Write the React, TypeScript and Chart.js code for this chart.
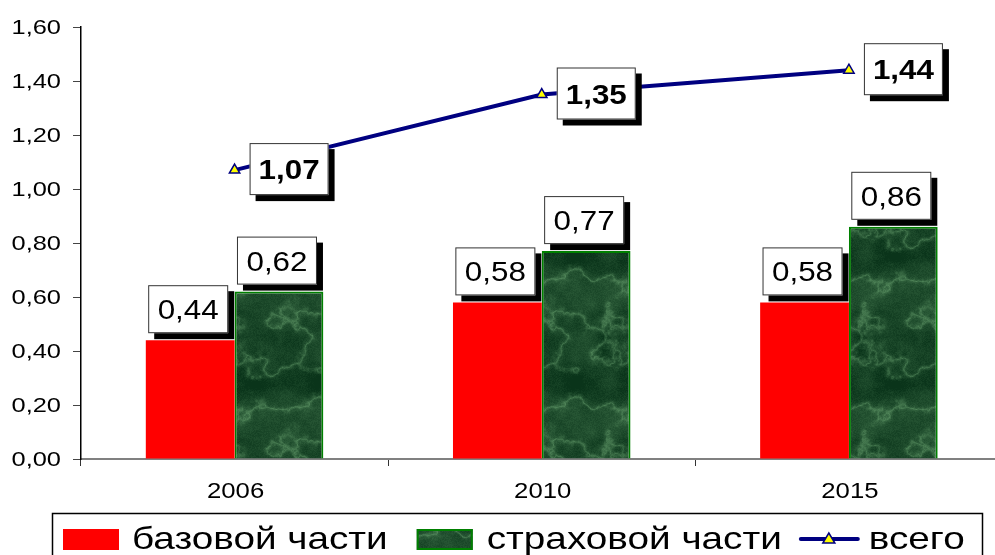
import React, { useEffect, useRef } from "react";
import { Chart, registerables } from "chart.js";

Chart.register(...registerables);

// Pension components by year
const years = ["2006", "2010", "2015"];
const basePart = [0.44, 0.58, 0.58];
const insurancePart = [0.62, 0.77, 0.86];
const total = [1.07, 1.35, 1.44];
const seriesNames = ["базовой части", "страховой части", "всего"];
const yMin = 0;
const yMax = 1.6;
const yStep = 0.2;

const FONT = '"Liberation Sans", Arial, sans-serif';
const fmt = (v: number) => v.toFixed(2).replace(".", ",");

// Horizontally widened text, positioned by its digit centre line
function drawText(
  ctx: CanvasRenderingContext2D,
  text: string,
  x: number,
  cy: number,
  align: CanvasTextAlign,
  size: number,
  sx: number,
  bold = false
) {
  ctx.save();
  ctx.font = `${bold ? "bold " : ""}${size}px ${FONT}`;
  ctx.fillStyle = "#000";
  ctx.textAlign = align;
  ctx.textBaseline = "alphabetic";
  ctx.translate(x, cy + size * 0.358);
  ctx.scale(sx, 1);
  ctx.fillText(text, 0, 0);
  ctx.restore();
}

function measure(ctx: CanvasRenderingContext2D, text: string, size: number, sx: number) {
  ctx.save();
  ctx.font = `${size}px ${FONT}`;
  const w = ctx.measureText(text).width * sx;
  ctx.restore();
  return w;
}

// Deterministic marble-like texture for the green bars
function hash(x: number, y: number) {
  let h = (x * 374761393 + y * 668265263) | 0;
  h = Math.imul(h ^ (h >>> 13), 1274126177);
  return ((h ^ (h >>> 16)) >>> 0) / 4294967295;
}
function vnoise(x: number, y: number, period: number) {
  const xi = Math.floor(x), yi = Math.floor(y);
  const fx = x - xi, fy = y - yi;
  const sx = fx * fx * (3 - 2 * fx), sy = fy * fy * (3 - 2 * fy);
  const w = (a: number) => ((a % period) + period) % period;
  const a = hash(w(xi), w(yi)), b = hash(w(xi + 1), w(yi));
  const c = hash(w(xi), w(yi + 1)), d = hash(w(xi + 1), w(yi + 1));
  return a + (b - a) * sx + (c - a) * sy + (a - b - c + d) * sx * sy;
}
function fbm(x: number, y: number, size: number, base: number, octaves: number, seed: number) {
  let f = 0, amp = 0.5, freq = base, norm = 0;
  for (let k = 0; k < octaves; k++) {
    f += amp * vnoise((x / size) * freq + seed, (y / size) * freq + seed * 0.7, freq);
    norm += amp;
    amp *= 0.5;
    freq *= 2;
  }
  return f / norm;
}
function makeMarble(ctx: CanvasRenderingContext2D) {
  const size = 128;
  const off = document.createElement("canvas");
  off.width = size;
  off.height = size;
  const o = off.getContext("2d")!;
  const img = o.createImageData(size, size);
  for (let y = 0; y < size; y++) {
    for (let x = 0; x < size; x++) {
      const cloud = fbm(x, y, size, 4, 4, 0);
      const v = fbm(x, y, size, 4, 5, 17);
      const vein = Math.pow(1 - Math.abs(2 * v - 1), 14);
      const grain = hash(x + 1000, y + 2000);
      const t = Math.min(1, Math.max(0, (cloud - 0.35) * 0.55 + vein * 0.45 + grain * 0.12));
      const i = (y * size + x) * 4;
      img.data[i] = 10 + t * 95;
      img.data[i + 1] = 52 + t * 110;
      img.data[i + 2] = 26 + t * 85;
      img.data[i + 3] = 255;
    }
  }
  o.putImageData(img, 0, 0);
  return ctx.createPattern(off, "repeat")!;
}

function labelBox(
  ctx: CanvasRenderingContext2D,
  left: number,
  top: number,
  w: number,
  h: number
) {
  ctx.save();
  ctx.fillStyle = "#000";
  ctx.fillRect(left + 6, top + 6, w, h);
  ctx.fillStyle = "#fff";
  ctx.fillRect(left, top, w, h);
  ctx.strokeStyle = "#333";
  ctx.lineWidth = 1;
  ctx.strokeRect(left + 0.5, top + 0.5, w - 1, h - 1);
  ctx.restore();
}

export default function App() {
  const ref = useRef<HTMLCanvasElement>(null);

  useEffect(() => {
    const canvas = ref.current!;
    const ctx0 = canvas.getContext("2d")!;
    const marble = makeMarble(ctx0);

    const decorations = {
      id: "decorations",
      afterDatasetsDraw(chart: any) {
        const ctx = chart.ctx as CanvasRenderingContext2D;
        // value boxes above bars
        [0, 1].forEach((di) => {
          const meta = chart.getDatasetMeta(di);
          const values = chart.data.datasets[di].data as number[];
          meta.data.forEach((bar: any, j: number) => {
            const w = 80, h = 48;
            const left = bar.x - 2 - w / 2;
            const top = bar.y - 7 - h;
            labelBox(ctx, left, top, w, h);
            drawText(ctx, fmt(values[j]), left + w / 2, top + h / 2, "center", 28, 1.12);
          });
        });
        // value boxes beside the total line
        const lm = chart.getDatasetMeta(2);
        lm.data.forEach((pt: any, j: number) => {
          const w = 79, h = 52;
          const left = pt.x + 15;
          const top = pt.y - h / 2 - 1;
          labelBox(ctx, left, top, w, h);
          drawText(ctx, fmt(total[j]), left + w / 2, top + h / 2, "center", 28, 1.12, true);
        });
      },
      afterDraw(chart: any) {
        const ctx = chart.ctx as CanvasRenderingContext2D;
        const ys = chart.scales.y;
        const xs = chart.scales.x;
        ys.ticks.forEach((t: any) => {
          drawText(ctx, fmt(t.value), 61, ys.getPixelForValue(t.value) - 1, "right", 21, 1.21);
        });
        years.forEach((_, i) => {
          drawText(ctx, xs.getLabelForValue(i), xs.getPixelForValue(i) + 1, 490, "center", 22, 1.17);
        });

        // legend
        ctx.save();
        ctx.strokeStyle = "#000";
        ctx.lineWidth = 1.5;
        ctx.strokeRect(52.5, 513.5, 930, 80);
        ctx.restore();
        const lsz = 32, lsx = 1.21;
        const cy = 539;
        let x = 63;
        // red swatch
        ctx.fillStyle = "#FF0000";
        ctx.fillRect(x, 529, 56, 21);
        x += 69;
        drawText(ctx, seriesNames[0], x, cy - 1, "left", lsz, lsx);
        x += measure(ctx, seriesNames[0], lsz, lsx) + 29;
        // green swatch
        ctx.save();
        ctx.fillStyle = marble;
        ctx.fillRect(x, 529, 56, 21);
        ctx.strokeStyle = "#008000";
        ctx.lineWidth = 2;
        ctx.strokeRect(x + 1, 530, 54, 19);
        ctx.restore();
        x += 70;
        drawText(ctx, seriesNames[1], x, cy - 1, "left", lsz, lsx);
        x += measure(ctx, seriesNames[1], lsz, lsx) + 17;
        // line swatch with triangle marker
        ctx.save();
        ctx.strokeStyle = "#000080";
        ctx.lineWidth = 4;
        ctx.lineCap = "round";
        ctx.beginPath();
        ctx.moveTo(x + 2, cy);
        ctx.lineTo(x + 59, cy);
        ctx.stroke();
        const mx = x + 30;
        ctx.beginPath();
        ctx.moveTo(mx, cy - 6);
        ctx.lineTo(mx + 6, cy + 4);
        ctx.lineTo(mx - 6, cy + 4);
        ctx.closePath();
        ctx.fillStyle = "#FFFF00";
        ctx.fill();
        ctx.lineWidth = 1.5;
        ctx.stroke();
        ctx.restore();
        x += 70;
        drawText(ctx, seriesNames[2], x, cy - 1, "left", lsz, lsx);
      },
    };

    const chart = new Chart(canvas, {
      type: "bar",
      data: {
        labels: years,
        datasets: [
          {
            label: seriesNames[0],
            data: basePart,
            backgroundColor: "#FF0000",
            borderWidth: 0,
            order: 1,
          },
          {
            label: seriesNames[1],
            data: insurancePart,
            backgroundColor: marble as any,
            borderColor: "#008000",
            borderWidth: 2,
            order: 1,
          },
          {
            type: "line",
            label: seriesNames[2],
            data: total,
            borderColor: "#000080",
            borderWidth: 4,
            tension: 0,
            pointStyle: "triangle",
            pointRadius: 6,
            pointBackgroundColor: "#FFFF00",
            pointBorderColor: "#000080",
            pointBorderWidth: 1.5,
            order: 0,
          } as any,
        ],
      },
      options: {
        animation: false,
        responsive: false,
        devicePixelRatio: 1,
        categoryPercentage: 0.578,
        barPercentage: 1,
        layout: { padding: { left: 0, right: 1, top: 27, bottom: 76 } },
        plugins: {
          legend: { display: false },
          tooltip: { enabled: false },
        },
        scales: {
          x: {
            offset: true,
            grid: {
              drawOnChartArea: false,
              drawTicks: true,
              tickLength: 7,
              tickColor: "#333",
              offset: true,
            },
            border: { color: "#808080", width: 2 },
            ticks: { display: false },
            afterFit: (s: any) => {
              s.height = 40;
            },
          },
          y: {
            min: yMin,
            max: yMax,
            ticks: { display: false, stepSize: yStep },
            grid: {
              drawOnChartArea: false,
              drawTicks: true,
              tickLength: 8,
              tickColor: "#444",
            },
            border: { color: "#000", width: 1.5 },
            afterFit: (s: any) => {
              s.width = 81;
            },
          },
        },
      } as any,
      plugins: [decorations],
    });

    return () => chart.destroy();
  }, []);

  return (
    <div
      style={{
        position: "fixed",
        left: 0,
        top: 0,
        width: 1010,
        height: 575,
        overflow: "hidden",
        background: "#fff",
      }}
    >
      <canvas ref={ref} width={1010} height={575} style={{ display: "block", width: 1010, height: 575 }} />
    </div>
  );
}
